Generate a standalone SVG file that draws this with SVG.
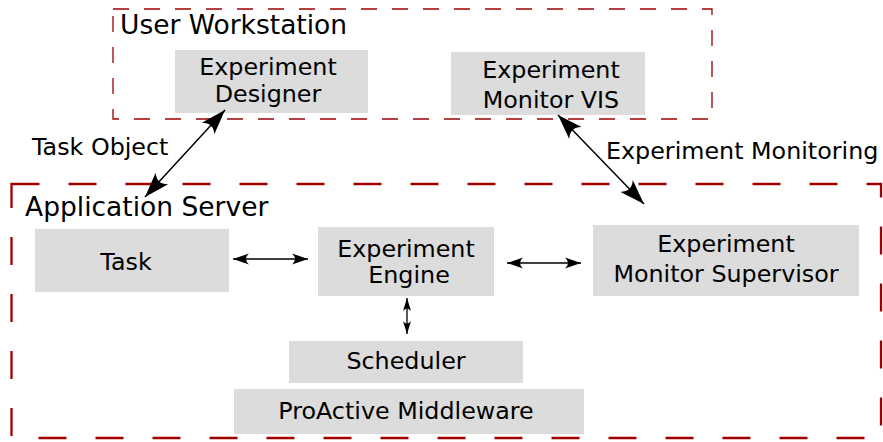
<svg xmlns="http://www.w3.org/2000/svg" width="883" height="442" viewBox="0 0 883 442">
  <style>
    .bg { fill: #ffffff; }
    .box { fill: #dcdcdc; stroke: none; }
    .lbl { font-family: "DejaVu Sans", "Liberation Sans", sans-serif; font-size: 23.8px; fill: #000; }
    .ttl { font-family: "DejaVu Sans", "Liberation Sans", sans-serif; font-size: 26.5px; fill: #000; }
    .mid { text-anchor: middle; }
    .conn { stroke: #000; fill: none; }
    .cont { fill: none; stroke: #a00000; }
  </style>
  <defs>
    <marker id="big" markerUnits="userSpaceOnUse" viewBox="-27 -10 30 20" markerWidth="30" markerHeight="20" refX="0" refY="0" orient="auto-start-reverse">
      <path d="M0,0 L-25,-8.5 Q-17,0 -25,8.5 Z" fill="#000"/>
    </marker>
    <marker id="small" markerUnits="userSpaceOnUse" viewBox="-18 -7 20 14" markerWidth="20" markerHeight="14" refX="0" refY="0" orient="auto-start-reverse">
      <path d="M0,0 L-16,-5.5 Q-10,0 -16,5.5 Z" fill="#000"/>
    </marker>
    <marker id="tiny" markerUnits="userSpaceOnUse" viewBox="-15 -6 17 12" markerWidth="17" markerHeight="12" refX="0" refY="0" orient="auto-start-reverse">
      <path d="M0,0 L-13,-4 Q-8,0 -13,4 Z" fill="#000"/>
    </marker>
  </defs>
  <rect class="bg" x="0" y="0" width="883" height="442"/>

  <g id="user-workstation">
    <rect class="cont" x="113" y="9" width="599" height="110" stroke-width="1.3" stroke-dasharray="16 15"/>
    <text class="ttl" x="120" y="34">User Workstation</text>
  </g>

  <g id="application-server">
    <rect class="cont" x="11.5" y="184" width="869.5" height="254" stroke-width="2.3" stroke-dasharray="28 29"/>
    <text class="ttl" x="25" y="216">Application Server</text>
  </g>

  <g id="experiment-designer">
    <rect class="box" x="175" y="50" width="193" height="63"/>
    <text class="lbl mid" x="268" y="75">Experiment</text>
    <text class="lbl mid" x="268" y="102">Designer</text>
  </g>

  <g id="experiment-monitor-vis">
    <rect class="box" x="451" y="52" width="194" height="63"/>
    <text class="lbl mid" x="551" y="78">Experiment</text>
    <text class="lbl mid" x="551" y="108">Monitor VIS</text>
  </g>

  <g id="task">
    <rect class="box" x="35" y="229" width="194" height="63"/>
    <text class="lbl mid" x="126" y="270">Task</text>
  </g>

  <g id="experiment-engine">
    <rect class="box" x="318" y="227" width="176" height="69"/>
    <text class="lbl mid" x="406" y="257">Experiment</text>
    <text class="lbl mid" x="409" y="283">Engine</text>
  </g>

  <g id="experiment-monitor-supervisor">
    <rect class="box" x="593" y="225" width="266" height="71"/>
    <text class="lbl mid" x="726" y="252">Experiment</text>
    <text class="lbl mid" x="726" y="282">Monitor Supervisor</text>
  </g>

  <g id="scheduler">
    <rect class="box" x="289" y="341" width="234" height="42"/>
    <text class="lbl mid" x="406" y="369">Scheduler</text>
  </g>

  <g id="proactive-middleware">
    <rect class="box" x="234" y="389" width="350" height="45"/>
    <text class="lbl mid" x="406" y="419">ProActive Middleware</text>
  </g>

  <g id="connectors">
    <line class="conn" x1="225" y1="110" x2="145" y2="197" stroke-width="1.5" marker-start="url(#big)" marker-end="url(#big)"/>
    <text class="lbl" x="32" y="155">Task Object</text>
    <line class="conn" x1="558" y1="115" x2="644" y2="204" stroke-width="1.5" marker-start="url(#big)" marker-end="url(#big)"/>
    <text class="lbl" x="606" y="159">Experiment Monitoring</text>
    <line class="conn" x1="233" y1="259" x2="308" y2="259" stroke-width="1.3" marker-start="url(#small)" marker-end="url(#small)"/>
    <line class="conn" x1="507" y1="263" x2="581" y2="263" stroke-width="1.3" marker-start="url(#small)" marker-end="url(#small)"/>
    <line class="conn" x1="407" y1="298" x2="407" y2="334" stroke-width="1.3" marker-start="url(#tiny)" marker-end="url(#tiny)"/>
  </g>
</svg>
